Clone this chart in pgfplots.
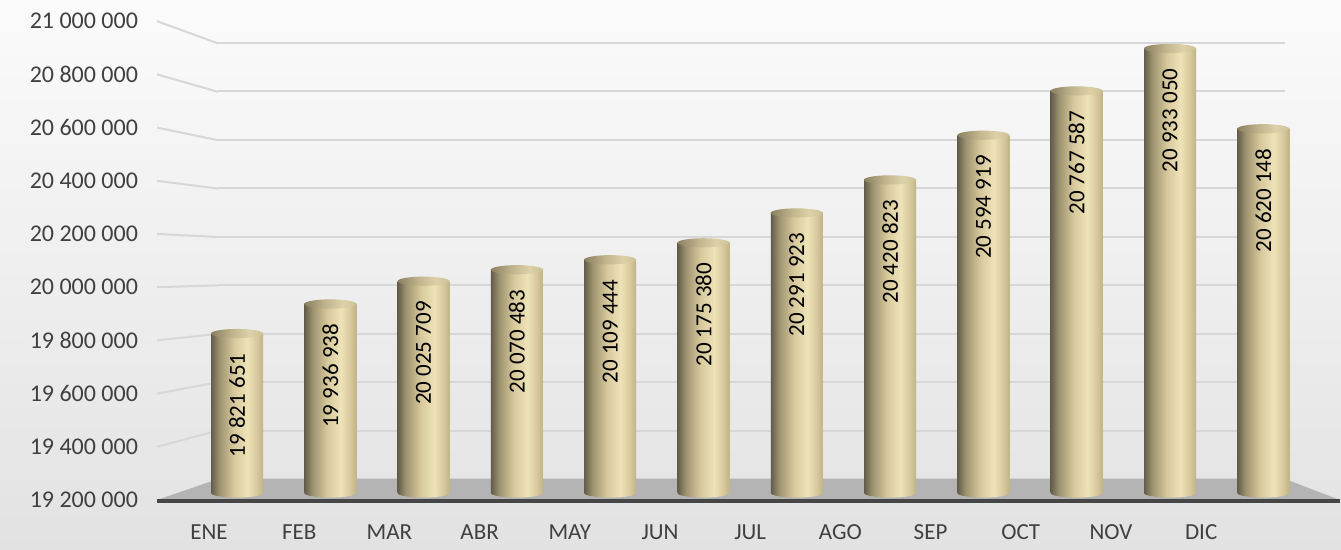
\documentclass[border=0pt]{standalone}
\usepackage{pgfplots}
\pgfplotsset{compat=1.18}
\usepackage{pgfplotstable}
\usepackage{fontspec}
\setmainfont{Carlito}

\definecolor{cA}{RGB}{100,92,74}
\definecolor{cB}{RGB}{158,147,112}
\definecolor{cC}{RGB}{215,201,156}
\definecolor{cD}{RGB}{238,226,184}
\definecolor{cE}{RGB}{192,179,135}
\definecolor{tA}{RGB}{138,128,98}
\definecolor{tB}{RGB}{192,180,140}
\definecolor{tC}{RGB}{220,209,168}
\definecolor{tD}{RGB}{204,192,150}
\definecolor{gridc}{RGB}{215,215,215}
\definecolor{floorc}{RGB}{180,180,180}
\definecolor{axc}{RGB}{70,70,70}
\definecolor{txt}{RGB}{64,64,64}
\definecolor{bgtop}{RGB}{251,251,251}
\definecolor{bgbot}{RGB}{226,226,226}

\pgfdeclarehorizontalshading{cyl}{100bp}{color(0bp)=(cA); color(25bp)=(cA); color(33bp)=(cB); color(47bp)=(cC); color(60bp)=(cD); color(69bp)=(cC); color(75bp)=(cE); color(100bp)=(cE)}
\pgfdeclarehorizontalshading{cylcap}{100bp}{color(0bp)=(tA); color(25bp)=(tA); color(45bp)=(tB); color(62bp)=(tC); color(75bp)=(tD); color(100bp)=(tD)}

\pgfdeclareplotmark{cyltop}{%
  \pgfpathellipse{\pgfpointorigin}{\pgfqpoint{13pt}{0pt}}{\pgfqpoint{0pt}{2.3pt}}%
  \pgfshadepath{cylcap}{0}%
  \pgfusepath{discard}%
}
\pgfdeclareplotmark{cylbot}{%
  \pgfpathellipse{\pgfpointorigin}{\pgfqpoint{13pt}{0pt}}{\pgfqpoint{0pt}{2.3pt}}%
  \pgfshadepath{cyl}{0}%
  \pgfusepath{discard}%
}

\pgfplotstableread[col sep=comma]{
x,y,lab
0,19821651,19~821~651
1,19936938,19~936~938
2,20025709,20~025~709
3,20070483,20~070~483
4,20109444,20~109~444
5,20175380,20~175~380
6,20291923,20~291~923
7,20420823,20~420~823
8,20594919,20~594~919
9,20767587,20~767~587
10,20933050,20~933~050
11,20620148,20~620~148
}\data

\begin{document}
\begin{tikzpicture}
\shade[top color=bgtop, bottom color=bgbot] (0,0) rectangle (670.5pt,-275pt);

% back wall with grid
\begin{axis}[
  scale only axis, width=533.5pt, height=218pt,
  at={(109pt,-239.5pt)}, anchor=south west,
  xmin=0, xmax=1, ymin=19200000, ymax=21000000,
  xtick=\empty,
  ytick={19200000,19400000,19600000,19800000,20000000,20200000,20400000,20600000,20800000,21000000},
  yticklabels={}, scaled y ticks=false,
  axis line style={draw=none}, tick style={draw=none},
  ymajorgrids, grid style={gridc, line width=1pt},
]
\end{axis}

\begin{scope}[x=0.5pt,y=-0.5pt]
  \foreach \k in {1,...,9}
    \draw[gridc, line width=1pt] (157,{500-53.2*\k}) -- (218,{479-48.4*\k});
  \fill[floorc] (157,500) -- (218,479) -- (1285,479) -- (1340,500) -- cycle;
  \draw[line width=1.6pt, axc] (157,501) -- (1340,501);
\end{scope}

% cylinders
\begin{axis}[
  scale only axis, width=590pt, height=230.85pt,
  at={(80pt,-246.5pt)}, anchor=south west,
  xmin=-0.8253, xmax=11.822, ymin=0, ymax=1800000,
  hide axis, clip=false,
  y filter/.expression={y-19200000},
]
\addplot[only marks, mark=cylbot] table[x=x, y expr=19200000] {\data};
\pgfplotsinvokeforeach{0,...,11}{
  \addplot[ybar, bar shift=0pt, bar width=26pt, draw=none, shade, shading=cyl,
    x filter/.expression={x==#1 ? x : nan}] table[x=x, y=y] {\data};
}
\addplot[only marks, mark=cyltop, point meta=explicit symbolic,
  nodes near coords,
  nodes near coords style={font=\fontsize{11.5pt}{13pt}\selectfont, text=black, yshift=-6.5pt, rotate=90, anchor=east}]
  table[x=x, y=y, meta=lab] {\data};
\end{axis}

% front labels
\begin{axis}[
  scale only axis, width=591.5pt, height=239.5pt,
  at={(78.5pt,-250pt)}, anchor=south west,
  xmin=-0.5765, xmax=12.539, ymin=19200000, ymax=21000000,
  axis line style={draw=none}, tick style={draw=none},
  xtick={0,1,2,3,4,5,6,7,8,9,10,11},
  xticklabels={ENE,FEB,MAR,ABR,MAY,JUN,JUL,AGO,SEP,OCT,NOV,DIC},
  ytick={19200000,19400000,19600000,19800000,20000000,20200000,20400000,20600000,20800000,21000000},
  yticklabels={19~200~000,19~400~000,19~600~000,19~800~000,20~000~000,20~200~000,20~400~000,20~600~000,20~800~000,21~000~000},
  scaled y ticks=false,
  xticklabel style={font=\fontsize{11.5pt}{13pt}\selectfont, text=txt, yshift=-8.75pt},
  yticklabel style={font=\fontsize{12pt}{14pt}\selectfont, text=txt, xshift=-6pt},
]
\end{axis}

\pgfresetboundingbox
\path[use as bounding box] (0,0) rectangle (670.5pt,-275pt);
\end{tikzpicture}
\end{document}
